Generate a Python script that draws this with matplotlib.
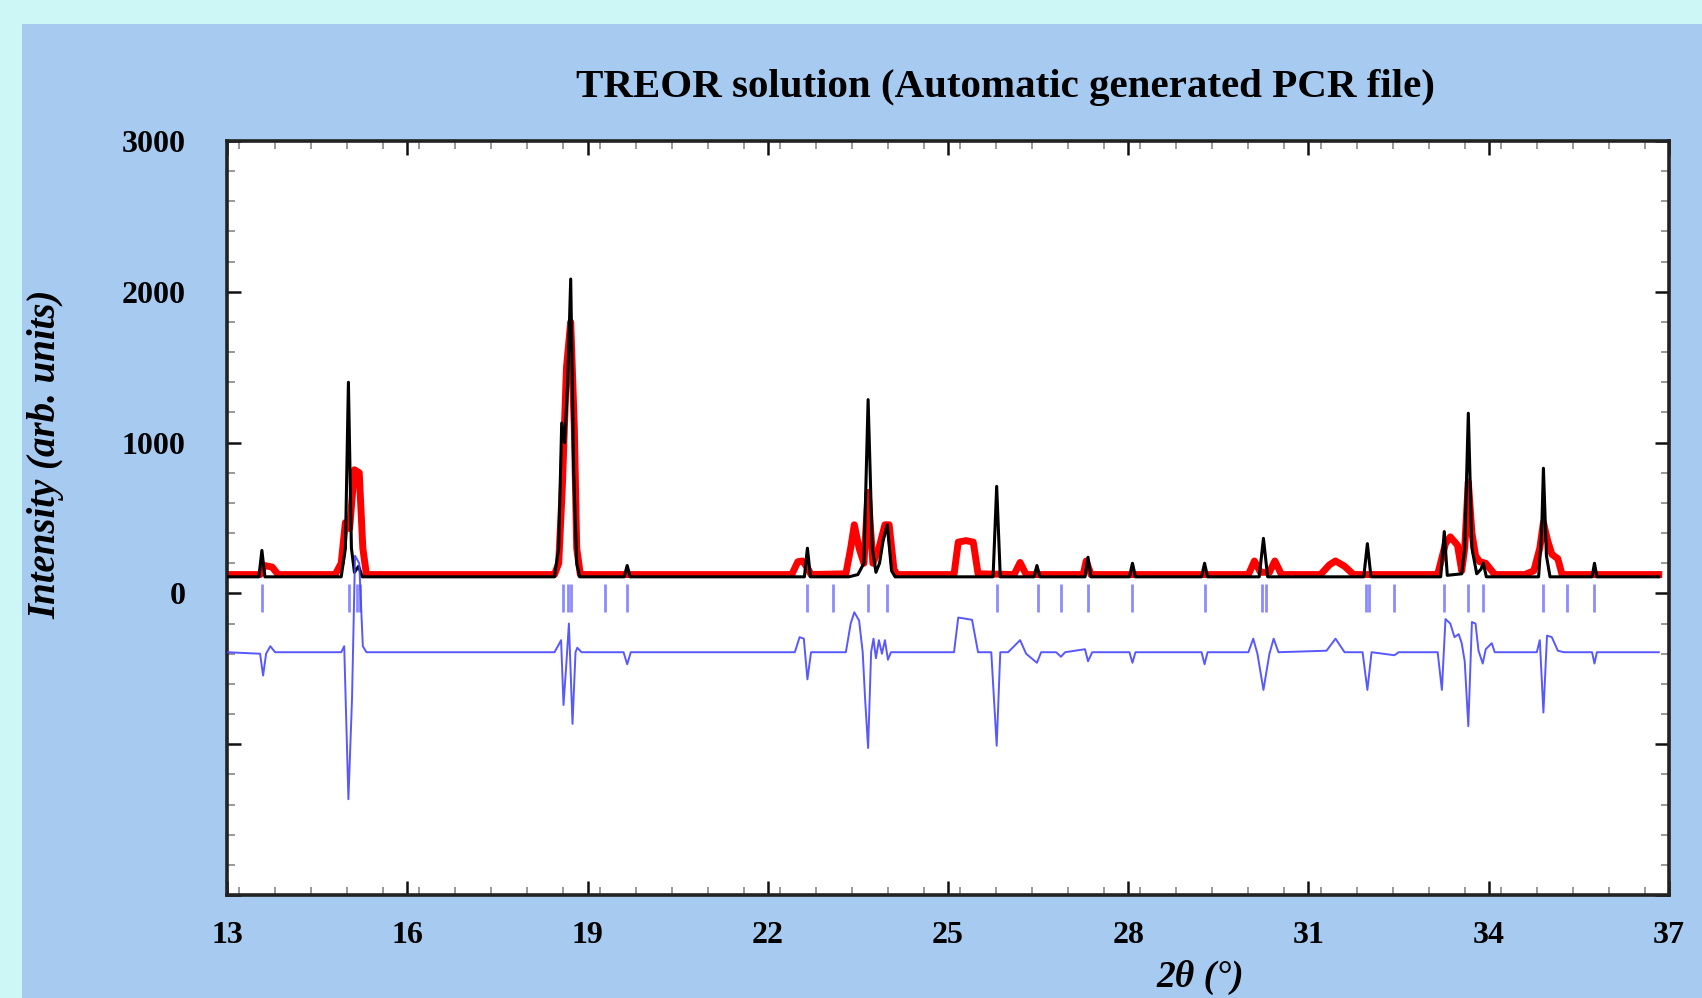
import matplotlib
matplotlib.use('Agg')
import matplotlib.pyplot as plt
from matplotlib.patches import Rectangle
from matplotlib.ticker import MultipleLocator

obs_points = [
    (13.0, 125), (13.55, 125), (13.62, 185), (13.75, 175), (13.85, 125),
    (14.8, 125), (14.9, 200), (14.97, 470), (15.04, 430), (15.12, 820), (15.2, 800),
    (15.26, 300), (15.32, 125),
    (18.45, 125), (18.52, 200), (18.58, 700), (18.65, 1500), (18.72, 1800),
    (18.78, 1100), (18.82, 300), (18.88, 125),
    (22.4, 125), (22.5, 210), (22.58, 215), (22.66, 170), (22.72, 125),
    (23.3, 130), (23.38, 300), (23.44, 455), (23.52, 300), (23.6, 200), (23.67, 670),
    (23.75, 200), (23.85, 300), (23.95, 455), (24.02, 455), (24.1, 160), (24.15, 125),
    (25.1, 125), (25.17, 340), (25.3, 350), (25.42, 340), (25.5, 130),
    (26.1, 125), (26.2, 205), (26.3, 125),
    (27.25, 125), (27.3, 215), (27.38, 125),
    (30.0, 125), (30.1, 215), (30.2, 140), (30.35, 140), (30.44, 215), (30.55, 125),
    (31.2, 125), (31.35, 190), (31.45, 215), (31.6, 180), (31.75, 125),
    (33.15, 125), (33.28, 330), (33.36, 375), (33.48, 320), (33.55, 150), (33.6, 300),
    (33.66, 740), (33.72, 400), (33.78, 250), (33.85, 210), (33.95, 200), (34.05, 150),
    (34.1, 125),
    (34.6, 125), (34.75, 150), (34.85, 300), (34.91, 470), (34.98, 350), (35.05, 260),
    (35.15, 230), (35.22, 125),
    (36.83, 125),
]

# расчётный профиль (чёрный)
calc_points = [
    (13.0, 110), (13.53, 110), (13.58, 285), (13.63, 110),
    (14.9, 110), (14.97, 300), (15.02, 1400), (15.07, 300), (15.12, 140), (15.19, 180),
    (15.25, 110),
    (18.45, 110), (18.52, 300), (18.57, 1130), (18.62, 1000), (18.67, 1400),
    (18.72, 2085), (18.77, 800), (18.82, 200), (18.87, 110),
    (19.61, 110), (19.66, 185), (19.71, 110),
    (22.61, 110), (22.66, 300), (22.71, 110),
    (23.35, 110), (23.5, 125), (23.6, 200), (23.67, 1285), (23.74, 300), (23.8, 140),
    (23.86, 200), (23.92, 350), (23.99, 455), (24.06, 150), (24.12, 110),
    (25.75, 110), (25.81, 710), (25.87, 110),
    (26.43, 110), (26.48, 185), (26.53, 110),
    (27.28, 110), (27.33, 240), (27.38, 110),
    (28.02, 110), (28.07, 200), (28.12, 110),
    (29.22, 110), (29.27, 200), (29.32, 110),
    (30.18, 110), (30.25, 365), (30.32, 110),
    (31.92, 110), (31.98, 330), (32.04, 110),
    (33.2, 110), (33.26, 410), (33.31, 120), (33.55, 130), (33.6, 300), (33.66, 1195),
    (33.72, 300), (33.8, 130), (33.87, 160), (33.91, 200), (33.96, 110),
    (34.83, 110), (34.88, 400), (34.91, 830), (34.96, 250), (35.02, 110),
    (35.72, 110), (35.76, 200), (35.8, 110),
    (36.83, 110),
]

# разностная кривая (синяя), уже со сдвигом вниз
diff_points = [
    (13.0, -390), (13.55, -400), (13.6, -545), (13.65, -400), (13.72, -350), (13.8, -390),
    (14.9, -390), (14.95, -350), (15.02, -1365), (15.08, -700), (15.13, 250), (15.2, 200),
    (15.26, -350), (15.32, -390),
    (18.45, -390), (18.52, -340), (18.56, -310), (18.6, -740), (18.65, -450),
    (18.69, -200), (18.75, -865), (18.8, -390), (18.83, -360), (18.9, -390),
    (19.6, -390), (19.66, -470), (19.72, -390),
    (22.45, -390), (22.53, -290), (22.6, -300), (22.66, -570), (22.72, -390),
    (23.3, -390), (23.38, -200), (23.44, -125), (23.52, -180), (23.58, -390),
    (23.62, -700), (23.67, -1025), (23.72, -390), (23.76, -300), (23.8, -430),
    (23.85, -310), (23.9, -400), (23.95, -310), (24.0, -440), (24.05, -390),
    (25.1, -390), (25.17, -160), (25.4, -175), (25.5, -390), (25.72, -390),
    (25.81, -1010), (25.87, -390),
    (26.0, -390), (26.2, -310), (26.3, -400), (26.48, -460), (26.55, -390),
    (26.8, -390), (26.88, -420), (26.95, -390),
    (27.28, -370), (27.33, -450), (27.4, -390), (28.02, -390), (28.07, -460), (28.12, -390),
    (29.22, -390), (29.27, -470), (29.32, -390),
    (30.0, -390), (30.08, -300), (30.15, -400), (30.25, -640), (30.35, -400),
    (30.42, -300), (30.5, -390),
    (31.3, -380), (31.45, -300), (31.6, -390), (31.9, -390), (31.98, -640), (32.05, -390),
    (32.43, -410), (32.5, -390),
    (33.15, -390), (33.22, -640), (33.28, -170), (33.36, -200), (33.43, -290),
    (33.5, -270), (33.55, -330), (33.6, -450), (33.66, -880), (33.72, -190),
    (33.78, -200), (33.83, -380), (33.9, -465), (33.95, -370), (34.05, -330), (34.1, -390),
    (34.8, -390), (34.85, -310), (34.91, -790), (34.97, -280), (35.05, -290),
    (35.15, -380), (35.25, -390),
    (35.72, -390), (35.76, -465), (35.8, -390), (36.83, -390),
]

# положения брэгговских рефлексов
bragg_pos = [13.58, 15.03, 15.17, 15.21, 18.6, 18.68, 18.73, 19.29, 19.66, 22.66,
             23.08, 23.67, 23.99, 25.81, 26.5, 26.88, 27.33, 28.07, 29.27, 30.23,
             30.29, 31.96, 32.01, 32.43, 33.26, 33.66, 33.91, 34.91, 35.31, 35.76]
bragg_range = (65, -120)

x_ticks = [13, 16, 19, 22, 25, 28, 31, 34, 37]
y_ticks = [-2000, -1000, 0, 1000, 2000, 3000]
y_tick_labels = ['', '', '0', '1000', '2000', '3000']

TITLE = 'TREOR solution (Automatic generated PCR file)'
X_LABEL = '2θ (°)'
Y_LABEL = 'Intensity (arb. units)'


def unzip(points: list) -> tuple:
    """
    Разделение списка точек на x и y
    :param points: Список пар (x, y)
    :return: Кортеж списков x и y
    """
    return [p[0] for p in points], [p[1] for p in points]


def draw_profiles(ax) -> None:
    """
    Отрисовка наблюдаемого, расчётного и разностного профилей
    :param ax: Оси
    :return:
    """
    ox, oy = unzip(obs_points)
    ax.plot(ox, oy, color='#ff0000', lw=5, solid_joinstyle='round', zorder=2)
    cx, cy = unzip(calc_points)
    ax.plot(cx, cy, color='black', lw=2.2, zorder=3)
    ax.vlines(bragg_pos, bragg_range[1], bragg_range[0], color='#8c8cff', lw=2, zorder=4)
    dx, dy = unzip(diff_points)
    ax.plot(dx, dy, color='#4646ff', lw=1.4, alpha=0.9, zorder=5)


def style_axes(ax) -> None:
    """
    Оформление осей, делений и подписей
    :param ax: Оси
    :return:
    """
    ax.set_xlim(13, 37)
    ax.set_ylim(-2000, 3000)
    ax.set_xticks(x_ticks)
    ax.xaxis.set_minor_locator(MultipleLocator(0.6))
    ax.set_yticks(y_ticks)
    ax.set_yticklabels(y_tick_labels)
    ax.yaxis.set_minor_locator(MultipleLocator(200))
    ax.tick_params(which='both', direction='in', top=True, right=True)
    ax.tick_params(which='major', length=10, width=1.8, color='#111111')
    ax.tick_params(which='minor', length=6, width=1.4, color='#999999')
    ax.tick_params(axis='x', which='major', pad=19, labelsize=23)
    ax.tick_params(axis='y', which='major', pad=30, labelsize=23)
    for label in ax.get_xticklabels() + ax.get_yticklabels():
        label.set_fontweight('bold')
    for spine in ax.spines.values():
        spine.set_linewidth(2.6)
        spine.set_color('#222222')


if __name__ == '__main__':
    plt.rcParams['font.family'] = ['Liberation Serif', 'DejaVu Serif']

    fig = plt.figure(figsize=(17.02, 9.98), dpi=100)
    fig.patch.set_facecolor('#cdf6f7')
    fig.patches.append(Rectangle((0.013, 0.0), 0.987, 0.976, transform=fig.transFigure,
                                 facecolor='#a7caf0', edgecolor='none', zorder=-1))

    ax = fig.add_axes([0.1334, 0.1032, 0.8472, 0.7555])
    ax.set_zorder(2)
    ax.set_facecolor('white')
    draw_profiles(ax)
    style_axes(ax)

    fig.text(0.591, 0.912, TITLE, ha='center', va='center', fontsize=29.5, fontweight='bold')
    fig.text(0.705, 0.021, X_LABEL, ha='center', va='center', fontsize=27,
             fontweight='bold', fontstyle='italic')
    fig.text(0.027, 0.545, Y_LABEL, ha='center', va='center', rotation=90, fontsize=28,
             fontweight='bold', fontstyle='italic')

    fig.savefig('out.png', dpi=100, facecolor=fig.get_facecolor())
